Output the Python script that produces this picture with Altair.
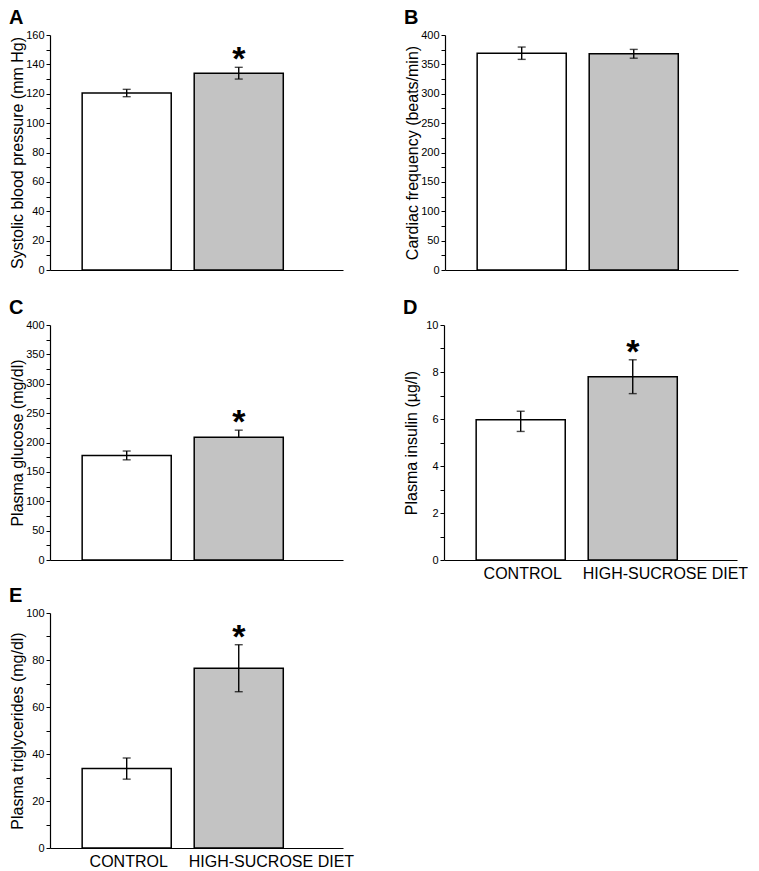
import altair as alt
import pandas as pd

groups = ["CONTROL", "HIGH-SUCROSE DIET"]

sbp = [120.5, 134.0]
sbp_err_lo = [2.5, 4.0]
sbp_err_hi = [2.5, 4.0]

hr = [369.0, 368.0]
hr_err_lo = [10.5, 7.5]
hr_err_hi = [10.5, 7.5]

glucose = [178.0, 209.0]
glucose_err_lo = [7.5, 0.0]
glucose_err_hi = [7.5, 12.0]

insulin = [5.97, 7.8]
insulin_err_lo = [0.5, 0.72]
insulin_err_hi = [0.36, 0.72]

tg = [33.8, 76.5]
tg_err_lo = [4.5, 10.0]
tg_err_hi = [4.5, 10.0]

stars = ["", "*"]

FONT = "Liberation Sans"


def panel(letter, values, lo, hi, ytitle, ymax, major, minor, xlabels, star):
    df = pd.DataFrame({
        "group": groups,
        "value": values,
        "lo": [v - e for v, e in zip(values, lo)],
        "hi": [v + e for v, e in zip(values, hi)],
        "star": stars if star else ["", ""],
    })
    if xlabels:
        xaxis = alt.Axis(
            title=None, ticks=False, tickSize=0, labelPadding=5, labelFontSize=16,
            labelColor="black", labelAngle=0, domainColor="black", domainWidth=1.2,
            labelFont=FONT,
            labelAlign={"condition": {"test": "datum.value === 'CONTROL'", "value": "center"}, "value": "left"},
            labelOffset={"condition": {"test": "datum.value === 'CONTROL'", "value": 2}, "value": -50},
        )
    else:
        xaxis = alt.Axis(title=None, ticks=False, labels=False, domainColor="black", domainWidth=1.2)
    xs = alt.Scale(domain=groups, paddingInner=0.205, paddingOuter=0.41, align=0.35)
    x = alt.X("group:N", scale=xs, axis=xaxis)
    ys = alt.Scale(domain=[0, ymax], nice=False)
    tick_vals = []
    v = 0.0
    while v <= ymax + 1e-9:
        tick_vals.append(round(v, 6))
        v += minor
    yaxis = alt.Axis(
        title=ytitle, values=tick_vals,
        labelExpr=f"abs(datum.value / {major} - round(datum.value / {major})) < 0.001 ? datum.label : ''",
        labelOverlap=False, labelFlush=False,
        grid=False, tickSize=4, tickColor="black", domainColor="black", domainWidth=1.2,
        labelFontSize=11, labelColor="black", labelPadding=2, labelFont=FONT,
        titleFontSize=16, titleFontWeight="normal", titleColor="black", titleX=-25, titleFont=FONT,
    )
    base = alt.Chart(df)
    bars = base.mark_bar(stroke="black", strokeWidth=1.5).encode(
        x=x,
        y=alt.Y("value:Q", scale=ys, axis=yaxis),
        fill=alt.Fill("group:N", scale=alt.Scale(domain=groups, range=["white", "#c3c3c3"]), legend=None),
    )
    rule = base.mark_rule(color="black", strokeWidth=1.4).encode(
        x=x, y=alt.Y("lo:Q", scale=ys, axis=yaxis), y2="hi:Q")
    cap_hi = base.mark_tick(color="black", thickness=1.4, size=8).encode(
        x=x, y=alt.Y("hi:Q", scale=ys, axis=yaxis))
    cap_lo = base.transform_filter("datum.lo < datum.value").mark_tick(color="black", thickness=1.4, size=8).encode(
        x=x, y=alt.Y("lo:Q", scale=ys, axis=yaxis))
    txt = base.transform_filter("datum.star != ''").mark_text(
        fontSize=34, fontWeight="bold", baseline="alphabetic", dy=3, color="black", font=FONT).encode(
        x=x, y=alt.Y("hi:Q", scale=ys, axis=yaxis), text="star:N")
    return alt.layer(bars, rule, cap_hi, cap_lo, txt).properties(
        width=293, height=235,
        title=alt.TitleParams(letter, anchor="start", frame="bounds", fontSize=20, fontWeight="bold",
                              font=FONT, color="black", offset=1),
    )


A = panel("A", sbp, sbp_err_lo, sbp_err_hi, "Systolic blood pressure (mm Hg)", 160, 20, 10, False, True)
B = panel("B", hr, hr_err_lo, hr_err_hi, "Cardiac frequency (beats/min)", 400, 50, 25, False, False)
C = panel("C", glucose, glucose_err_lo, glucose_err_hi, "Plasma glucose (mg/dl)", 400, 50, 25, False, True)
D = panel("D", insulin, insulin_err_lo, insulin_err_hi, "Plasma insulin (\u00b5g/l)", 10, 2, 1, True, True)
E = panel("E", tg, tg_err_lo, tg_err_hi, "Plasma triglycerides (mg/dl)", 100, 20, 10, True, True)

row1 = alt.hconcat(A, B, spacing=60)
row2 = alt.hconcat(C, D, spacing=60)
row3 = alt.hconcat(E, spacing=60)

chart = alt.vconcat(alt.vconcat(row1, row2, spacing=23), row3, spacing=5).properties(
    padding=0, background="white"
).configure_view(stroke="transparent", strokeWidth=0).configure_axis(
    labelFont=FONT, titleFont=FONT)

chart.save("out.html", embed_options={"renderer": "svg", "actions": False})
